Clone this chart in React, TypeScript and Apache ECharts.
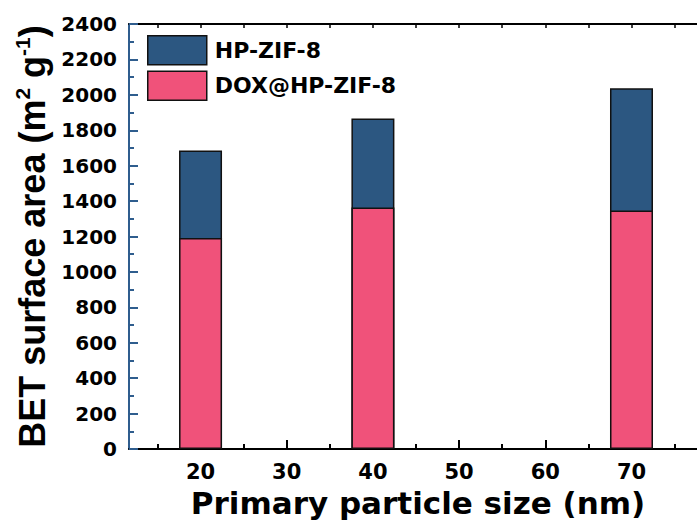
import React, { useEffect, useRef } from "react";
import * as echarts from "echarts";

const seriesNames = ["HP-ZIF-8", "DOX@HP-ZIF-8"];
const particleSizes = [20, 40, 70];
const hpValues = [1686, 1867, 2037];
const doxValues = [1191, 1364, 1347];
const xMajorTicks = [20, 30, 40, 50, 60, 70];
const xMinorTicks = [15, 25, 35, 45, 55, 65, 75];
const xTopTicks = [15, 20, 25, 30, 35, 40, 45, 50, 55, 60, 65, 70, 75];

const FONT = "DejaVu Sans";
const TITLE_FONT = "Liberation Sans";
const BLUE = "#2c5781";
const PINK = "#f0527a";
const AXIS_BLUE = "#2f5d8e";

export default function App() {
  const ref = useRef<HTMLDivElement>(null);
  useEffect(() => {
    const chart = echarts.init(ref.current!, null, { renderer: "svg" });
    const xMin = 11.7;
    const xMax = 77.6;
    const yTitle = { fontFamily: TITLE_FONT, fontWeight: "bold", color: "#000" };
    chart.setOption({
      animation: false,
      backgroundColor: "#fff",
      grid: { left: 129, right: 0, top: 24, bottom: 77, containLabel: false, outerBoundsMode: "none" },
      legend: {
        data: seriesNames,
        orient: "vertical",
        left: 142,
        top: 30,
        itemWidth: 59,
        itemHeight: 29,
        itemGap: 5,
        icon: "rect",
        itemStyle: { borderColor: "#111", borderWidth: 1.5 },
        textStyle: { fontFamily: FONT, fontWeight: "bold", fontSize: 22, color: "#000", padding: [0, 0, 0, 3] },
      },
      xAxis: [
        {
          type: "value",
          min: xMin,
          max: xMax,
          position: "bottom",
          name: "Primary particle size (nm)",
          nameLocation: "middle",
          nameGap: 38,
          nameTextStyle: { fontFamily: FONT, fontWeight: "bold", color: "#000", fontSize: 31, padding: [0, 0, 0, 10] },
          axisLine: { show: true, lineStyle: { color: "#000", width: 2 } },
          axisTick: { show: true, inside: true, length: 9, customValues: xMajorTicks, lineStyle: { color: "#000", width: 2 } },
          axisLabel: { show: true, customValues: xMajorTicks, fontFamily: FONT, fontWeight: "bold", fontSize: 21, color: "#000", margin: 12 },
          splitLine: { show: false },
        },
        {
          type: "value",
          min: xMin,
          max: xMax,
          position: "bottom",
          axisLine: { show: false },
          axisTick: { show: true, inside: true, length: 5, customValues: xMinorTicks, lineStyle: { color: "#000", width: 2 } },
          axisLabel: { show: false },
          splitLine: { show: false },
        },
        {
          type: "value",
          min: xMin,
          max: xMax,
          position: "top",
          axisLine: { show: true, lineStyle: { color: "#000", width: 2 } },
          axisTick: { show: true, inside: true, length: 4, customValues: xTopTicks, lineStyle: { color: "#000", width: 1.5 } },
          axisLabel: { show: false },
          splitLine: { show: false },
        },
      ],
      yAxis: {
        type: "value",
        min: 0,
        max: 2400,
        interval: 200,
        name: "{a|BET surface area (m}{s|2}{a| g}{s|-1}{a|)}",
        nameLocation: "middle",
        nameGap: 72,
        nameTextStyle: {
          rich: {
            a: { ...yTitle, fontSize: 36, lineHeight: 40 },
            s: { ...yTitle, fontSize: 21, lineHeight: 20, verticalAlign: "top" },
          },
        },
        axisLine: { show: true, lineStyle: { color: AXIS_BLUE, width: 2 } },
        axisTick: { show: true, inside: true, length: 9, lineStyle: { color: AXIS_BLUE, width: 2 } },
        minorTick: { show: true, splitNumber: 2, length: 5, lineStyle: { color: AXIS_BLUE, width: 2 } },
        axisLabel: {
          fontFamily: FONT,
          fontWeight: "bold",
          fontSize: 20,
          color: "#000",
          margin: 12,
          formatter: (v: number) => String(v),
        },
        splitLine: { show: false },
      },
      series: [
        {
          name: seriesNames[0],
          type: "bar",
          xAxisIndex: 0,
          barWidth: 43,
          barGap: "-100%",
          itemStyle: { color: BLUE, borderColor: "#111", borderWidth: 1.5 },
          data: particleSizes.map((x, i) => [x, hpValues[i]]),
        },
        {
          name: seriesNames[1],
          type: "bar",
          xAxisIndex: 0,
          barWidth: 43,
          barGap: "-100%",
          itemStyle: { color: PINK, borderColor: "#111", borderWidth: 1.5 },
          data: particleSizes.map((x, i) => [x, doxValues[i]]),
        },
      ],
    });
    return () => chart.dispose();
  }, []);
  return (
    <div
      ref={ref}
      style={{ position: "fixed", left: 0, top: 0, width: 697, height: 526 }}
    />
  );
}
